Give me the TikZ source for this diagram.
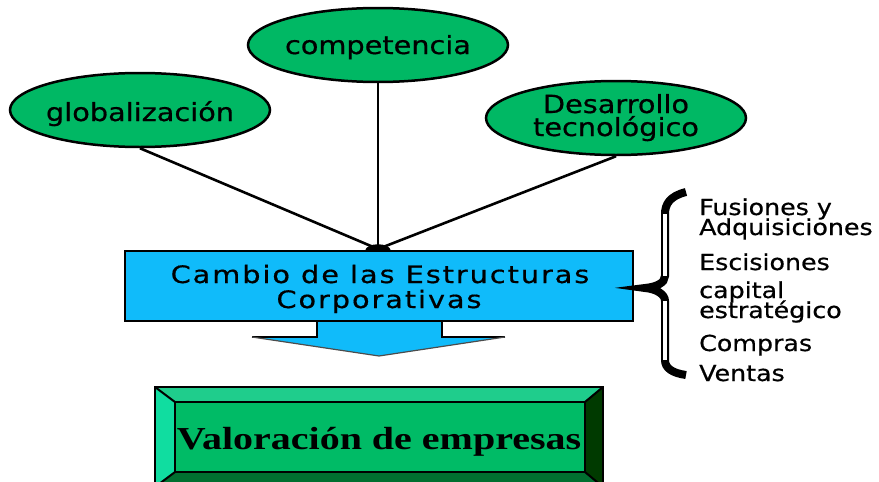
\documentclass[tikz,border=0pt]{standalone}
\usepackage{fontspec}
\usetikzlibrary{shapes.geometric}
\newfontfamily\sansw[FakeStretch=1.15,FakeBold=0.6]{DejaVu Sans}
\newfontfamily\boxw[FakeStretch=1.2,LetterSpace=8,FakeBold=0.6]{DejaVu Sans}
\newfontfamily\valw[FakeStretch=1.25]{Liberation Serif}
\definecolor{ellgreen}{RGB}{0,184,100}
\definecolor{boxblue}{RGB}{16,187,250}
\definecolor{innergreen}{RGB}{0,187,102}
\definecolor{topbevel}{RGB}{31,205,140}
\definecolor{leftbevel}{RGB}{16,221,160}
\definecolor{rightbevel}{RGB}{0,58,0}
\definecolor{botbevel}{RGB}{0,112,48}
\tikzset{
  ell/.style={ellipse, draw=black, line width=2.5pt, fill=ellgreen, minimum width=260pt, minimum height=74pt, inner sep=0pt},
  etext/.style={anchor=base, font=\fontsize{25}{25}\sansw, inner sep=0pt},
  btext/.style={anchor=base, font=\fontsize{24}{24}\boxw, inner sep=0pt},
  note/.style={anchor=base west, font=\fontsize{22}{22}\sansw, inner sep=0pt},
  conn/.style={line width=2.6pt, black},
  bevel/.style={draw=black, line width=2.5pt, line join=miter}
}
\begin{document}
\begin{tikzpicture}[x=1pt,y=-1pt]
\useasboundingbox (0,0) rectangle (879,482);
% ellipses
\node[ell] (comp) at (378,45) {};
\node[ell] (glob) at (140,110) {};
\node[ell] (des) at (616,118) {};
\node[etext] (tcomp) at (378,54) {competencia};
\node[etext] (tglob) at (140,121) {globalización};
\node[etext] (tdes1) at (616,113) {Desarrollo};
\node[etext] (tdes2) at (616,136) {tecnológico};
% connectors
\coordinate (hub) at (378,249);
\draw[conn] (glob.south) -- (hub);
\draw[conn] (comp.south) -- (hub);
\draw[conn] (des.south) -- (hub);
% arrow below box
\fill[boxblue] (317,319) -- (317,337) -- (252,337) -- (379,356) -- (505,337) -- (442,337) -- (442,319) -- cycle;
\draw[line width=2.5pt] (317,319) -- (317,337) -- (252,337);
\draw[line width=2.5pt] (442,319) -- (442,337) -- (505,337);
\draw[line width=1.2pt, black!70] (252,337) -- (379,356) -- (505,337);
% blue box
\node[draw=black, line width=2.8pt, fill=boxblue, minimum width=508pt, minimum height=70pt, inner sep=0pt] (box) at (379,286) {};
\fill (365,251) .. controls (366,242) and (390,242) .. (391,251) -- cycle;
\node[btext] (b1) at (380,283) {Cambio de las Estructuras};
\node[btext] (b2) at (379,308) {Corporativas};
% bottom bevel box
\fill[topbevel] (155,387) -- (603,387) -- (585,402) -- (175,402) -- cycle;
\fill[leftbevel] (155,387) -- (175,402) -- (175,472) -- (155,487) -- cycle;
\fill[rightbevel] (603,387) -- (585,402) -- (585,472) -- (603,487) -- cycle;
\fill[botbevel] (175,472) -- (585,472) -- (603,487) -- (155,487) -- cycle;
\fill[innergreen] (175,402) rectangle (585,472);
\draw[bevel] (155,387) rectangle (603,487);
\draw[bevel] (175,402) rectangle (585,472);
\draw[line width=2pt] (155,387) -- (175,402) (603,387) -- (585,402) (585,472) -- (603,487) (175,472) -- (155,487);
\node[anchor=base, font=\fontsize{32}{32}\valw\bfseries, inner sep=0pt] (val) at (379,449) {Valoración de empresas};
% brace
\draw[line width=8pt, line cap=butt] (686,192) .. controls (670,196) and (665,204) .. (665,214) -- (665,276) .. controls (665,283) and (656,287) .. (645,288) .. controls (656,289) and (665,294) .. (665,301) -- (665,360) .. controls (665,368) and (672,373) .. (686,375);
\draw[line width=3.5pt, white] (665,214) -- (665,276) (665,301) -- (665,360);
% list
\node[note] (n1) at (699,215) {Fusiones y};
\node[note] (n2) at (699,235) {Adquisiciones};
\node[note] (n3) at (699,270) {Escisiones};
\node[note] (n4) at (699,298) {capital};
\node[note] (n5) at (699,318) {estratégico};
\node[note] (n6) at (699,351) {Compras};
\node[note] (n7) at (699,381) {Ventas};
\end{tikzpicture}
\end{document}
